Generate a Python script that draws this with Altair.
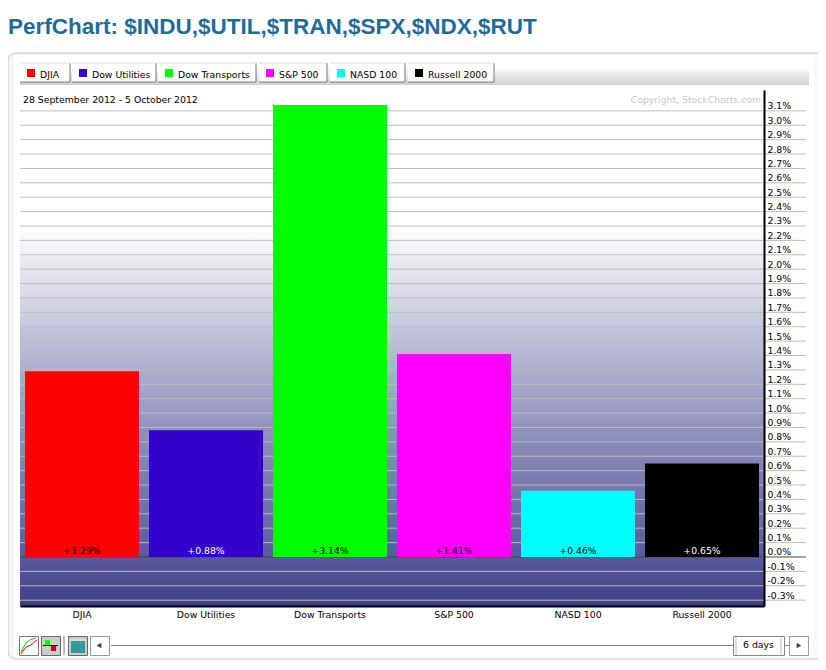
import altair as alt
import pandas as pd

TITLE = "PerfChart: $INDU,$UTIL,$TRAN,$SPX,$NDX,$RUT"
DATE_RANGE = "28 September 2012 - 5 October 2012"
COPYRIGHT = "Copyright, StockCharts.com"
SERIES = ["DJIA", "Dow Utilities", "Dow Transports", "S&P 500", "NASD 100", "Russell 2000"]
VALUES = [1.29, 0.88, 3.14, 1.41, 0.46, 0.65]
LABELS = ["+1.29%", "+0.88%", "+3.14%", "+1.41%", "+0.46%", "+0.65%"]
COLORS = ["#ff0000", "#3300cc", "#00ff00", "#ff00ff", "#00ffff", "#000000"]
LABEL_COLORS = ["#000000", "#ffffff", "#000000", "#000000", "#000000", "#ffffff"]
TICKS = [t / 10 for t in range(-3, 32)]
TAB_EDGES = [(20, 70), (72, 156), (158, 256), (259, 327), (330, 405), (408, 494)]

FONT = "DejaVu Sans"
TXT = 9.3
OX, OY = 20, 90
W, H = 744, 516
one = pd.DataFrame({"a": [0]})


def rect(x0, y0, x1, y1, **kw):
    return alt.Chart(one).mark_rect(**kw).encode(
        x=alt.value(x0 - OX), x2=alt.value(x1 - OX),
        y=alt.value(y0 - OY), y2=alt.value(y1 - OY))


def seg(x0, y0, x1, y1, color, width=1):
    return alt.Chart(one).mark_rule(color=color, strokeWidth=width).encode(
        x=alt.value(x0 - OX), x2=alt.value(x1 - OX),
        y=alt.value(y0 - OY), y2=alt.value(y1 - OY))


def label(txt, x, y, size=TXT, color="#000000", align="left", font=FONT, weight="normal"):
    return alt.Chart(one).mark_text(
        text=txt, align=align, baseline="middle", fontSize=size,
        color=color, font=font, fontWeight=weight,
    ).encode(x=alt.value(x - OX), y=alt.value(y - OY))


def arrow(x, y, shape):
    return alt.Chart(one).mark_point(shape=shape, filled=True, size=30, color="#444444", opacity=1).encode(
        x=alt.value(x - OX), y=alt.value(y - OY))


def grad(stops):
    return alt.LinearGradient(
        gradient="linear", x1=0, x2=0, y1=0, y2=1,
        stops=[alt.GradientStop(color=c, offset=o) for o, c in stops])


layers = [
    rect(8, 53, 860, 659, fill="#f5f7fb", stroke="#d8d8d8", strokeWidth=1.5, cornerRadius=8),
    rect(14, 55, 814, 658, fill="#ffffff"),
    rect(20, 67, 809, 85, fill=grad([(0, "#ffffff"), (1, "#cfcfcf")])),
    label(TITLE, 8, 26.5, size=22.5, color="#1f6b97", font="Liberation Sans", weight="bold"),
]

for (x0, x1), name, col in zip(TAB_EDGES, SERIES, COLORS):
    layers += [
        rect(x0, 63, x1, 82, fill="#ffffff"),
        seg(x1, 63, x1, 82, "#777777"),
        seg(x0, 82, x1, 82, "#777777"),
        seg(x0, 63, x1, 63, "#dddddd"),
        rect(x0 + 7, 69, x0 + 15, 77, fill=col),
        label(name, x0 + 20, 74.5),
    ]

layers += [
    rect(20, 90, 764, 606, fill=grad([
        (0, "#ffffff"), (0.26, "#ffffff"), (0.407, "#d5d5e6"), (0.562, "#a8a8cc"),
        (0.698, "#8888b8"), (0.905, "#5a5a9f"), (1, "#3e3e88")])),
]

df = pd.DataFrame({"name": SERIES, "value": VALUES, "label": LABELS,
                   "col": COLORS, "lab": LABEL_COLORS})
grid = pd.DataFrame({"t": [t for t in TICKS if t != 0]})
x_scale = alt.Scale(domain=SERIES, paddingInner=10 / 124, paddingOuter=5 / 124, align=0.5)
y_scale = alt.Scale(domain=[-0.3406, 3.245], nice=False, zero=False)
y_axis = alt.Axis(
    orient="right", values=TICKS,
    labelExpr="replace(format(datum.value,'.1f'),'\u2212','-')+'%'",
    labelFont=FONT, labelFontSize=TXT, labelColor="#000000", labelBaseline="bottom",
    labelOverlap=False, labelBound=False, labelFlush=False,
    ticks=False, grid=False, domainColor="#000000", domainWidth=2, labelPadding=3, zindex=1)
x_axis = alt.Axis(
    orient="bottom", labelAngle=0, labelFont=FONT, labelFontSize=TXT, labelColor="#000000",
    ticks=False, domainColor="#000000", domainWidth=2, labelPadding=4, zindex=1)

gridlines = alt.Chart(grid).mark_rule(color="#bdbdb8", strokeWidth=1).encode(
    y=alt.Y("t:Q", scale=y_scale, axis=y_axis, title=None),
    x=alt.value(0), x2=alt.value(786),
)
zero_line = alt.Chart(pd.DataFrame({"t": [0]})).mark_rule(color="#444444", strokeWidth=1).encode(
    y=alt.Y("t:Q", scale=y_scale, axis=y_axis, title=None),
    x=alt.value(0), x2=alt.value(786),
)
bars = alt.Chart(df).mark_bar(stroke=None, cornerRadius=0).encode(
    x=alt.X("name:N", scale=x_scale, sort=SERIES, title=None, axis=x_axis),
    y=alt.Y("value:Q", scale=y_scale, title=None, axis=y_axis),
    y2=alt.Y2(datum=0),
    color=alt.Color("col:N", scale=None, legend=None),
)
bar_labels = alt.Chart(df).mark_text(fontSize=TXT, font=FONT, baseline="middle", dy=-6).encode(
    x=alt.X("name:N", scale=x_scale, sort=SERIES, title=None, axis=x_axis),
    y=alt.Y(datum=0, scale=y_scale, title=None, axis=y_axis),
    text="label:N",
    color=alt.Color("lab:N", scale=None, legend=None),
)

layers += [gridlines, zero_line, bars, bar_labels]

layers += [
    label(DATE_RANGE, 23, 99.5),
    label(COPYRIGHT, 761, 100, color="#c8c8c8", align="right"),
    # bottom controls
    rect(19.5, 636.5, 38.5, 655.5, fill="#ffffff", stroke="#777777", strokeWidth=1),
    seg(21, 654, 26, 647, "#ff0000"), seg(26, 647, 31, 645, "#ff0000"), seg(31, 645, 37, 640, "#ff0000"),
    seg(21, 652, 26, 643, "#00dd00"), seg(26, 643, 30, 640, "#00dd00"), seg(30, 640, 36, 638, "#00dd00"),
    rect(41.5, 636.5, 60.5, 655.5, fill="#cccccc", stroke="#666666", strokeWidth=1),
    rect(45, 640, 50, 645, fill="#00ff00"),
    rect(51, 646, 56, 651, fill="#cc0000"),
    seg(43, 645.5, 58, 645.5, "#000088"),
    seg(64, 636, 64, 655, "#bbbbbb", 2),
    rect(68.5, 636.5, 87.5, 655.5, fill="#cccccc", stroke="#666666", strokeWidth=1),
    rect(71, 640, 85, 653, fill="#339999"),
    seg(71, 640, 85, 640, "#dddddd", 2),
    rect(90.5, 636.5, 109.5, 655.5, fill="#ffffff", stroke="#999999", strokeWidth=1),
    arrow(99, 645.5, "triangle-left"),
    seg(111, 645.5, 733, 645.5, "#888888"),
    seg(784, 645.5, 789, 645.5, "#888888"),
    rect(733.5, 636.5, 784.5, 655.5, fill="#ffffff", stroke="#888888", strokeWidth=1),
    seg(736, 637, 736, 655, "#bbbbbb"),
    seg(781, 637, 781, 655, "#bbbbbb"),
    label("6 days", 758.5, 645, align="center"),
    rect(789.5, 636.5, 808.5, 655.5, fill="#ffffff", stroke="#999999", strokeWidth=1),
    arrow(799, 645.5, "triangle-right"),
]

chart = alt.layer(*layers).resolve_scale(color="independent").properties(
    width=W, height=H,
    autosize=alt.AutoSizeParams(type="none"),
    padding={"left": 12, "top": 82, "right": 54, "bottom": 56},
).configure_view(stroke=None)

chart.save("out.html", embed_options={"renderer": "svg", "actions": False})
